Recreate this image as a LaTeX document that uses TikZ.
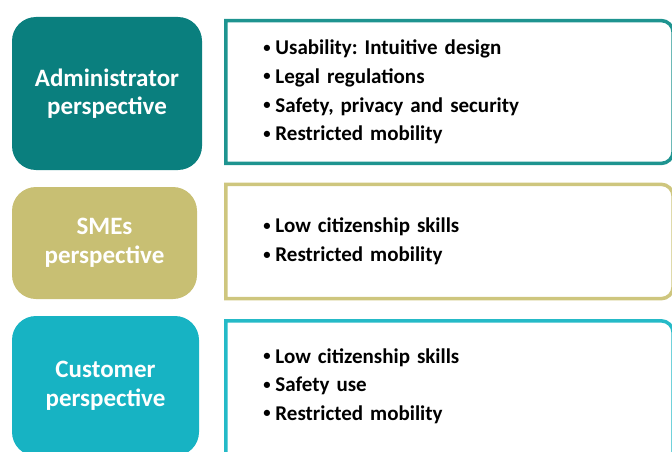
\documentclass[tikz,border=0pt]{standalone}
\usepackage{fontspec}
\setmainfont{Carlito}
\frenchspacing
\usetikzlibrary{positioning}
\definecolor{admincol}{HTML}{0A7F7E}
\definecolor{smecol}{HTML}{C8BF73}
\definecolor{custcol}{HTML}{17B3C3}
\definecolor{adminline}{HTML}{1E9490}
\definecolor{smeline}{HTML}{CEC67E}
\definecolor{custline}{HTML}{25BAC7}
\newcommand{\itm}[1]{\hspace*{14pt}\makebox[12pt][l]{\raisebox{0.12em}{\scalebox{0.7}{•}}}#1}
% frame: node name, colour, extra drop of the bottom edge
\newcommand{\reqframe}[3][0pt]{%
  \draw[reqline, draw=#3] ([yshift=-#1]#2.south west) -- (#2.north west)
    -- ([xshift=-12pt]#2.north east) arc[start angle=90, end angle=0, radius=12pt]
    -- ([yshift=12pt-#1]#2.south east) arc[start angle=0, end angle=-90, radius=12pt]
    -- cycle;}

\begin{document}
\begin{tikzpicture}[x=1pt, y=-1pt,
    persp/.style={rounded corners=24pt, inner sep=0pt, align=center, text=white,
      font=\fontsize{25}{28.5}\selectfont\bfseries},
    needs/.style={minimum width=447pt, text width=400pt, inner xsep=0pt, align=left,
      font=\fontsize{21}{28.7}\selectfont\bfseries, text=black},
    reqline/.style={line width=3.5pt}]

  \useasboundingbox (0,0) rectangle (672,452);
  \clip (0,0) rectangle (672,452);

  % perspective boxes
  \node[persp, fill=admincol, minimum width=190pt, minimum height=153pt] (admin) at (107,93.5)
    {Administrator\\perspective};
  \node[persp, fill=smecol, minimum width=185pt, minimum height=112pt] (sme) at (104.5,243)
    {SMEs\\perspective};
  \node[persp, fill=custcol, minimum width=187pt, minimum height=140pt] (cust) at (105.5,386)
    {Customer\\perspective};

  % requirement boxes
  \node[needs, minimum height=142.5pt, anchor=west] (adminreq) at (225.75,92)
    {\itm{Usability: Intuitive design}\\
     \itm{Legal regulations}\\
     \itm{Safety, privacy and security}\\
     \itm{Restricted mobility}};
  \node[needs, minimum height=114pt, anchor=west] (smereq) at (225.75,241.5)
    {\itm{Low citizenship skills}\\
     \itm{Restricted mobility}};
  \node[needs, minimum height=130pt, anchor=west] (custreq) at (225.75,386)
    {\itm{Low citizenship skills}\\
     \itm{Safety use}\\
     \itm{Restricted mobility}};

  \reqframe{adminreq}{adminline}
  \reqframe{smereq}{smeline}
  \reqframe[20pt]{custreq}{custline}

\end{tikzpicture}
\end{document}
